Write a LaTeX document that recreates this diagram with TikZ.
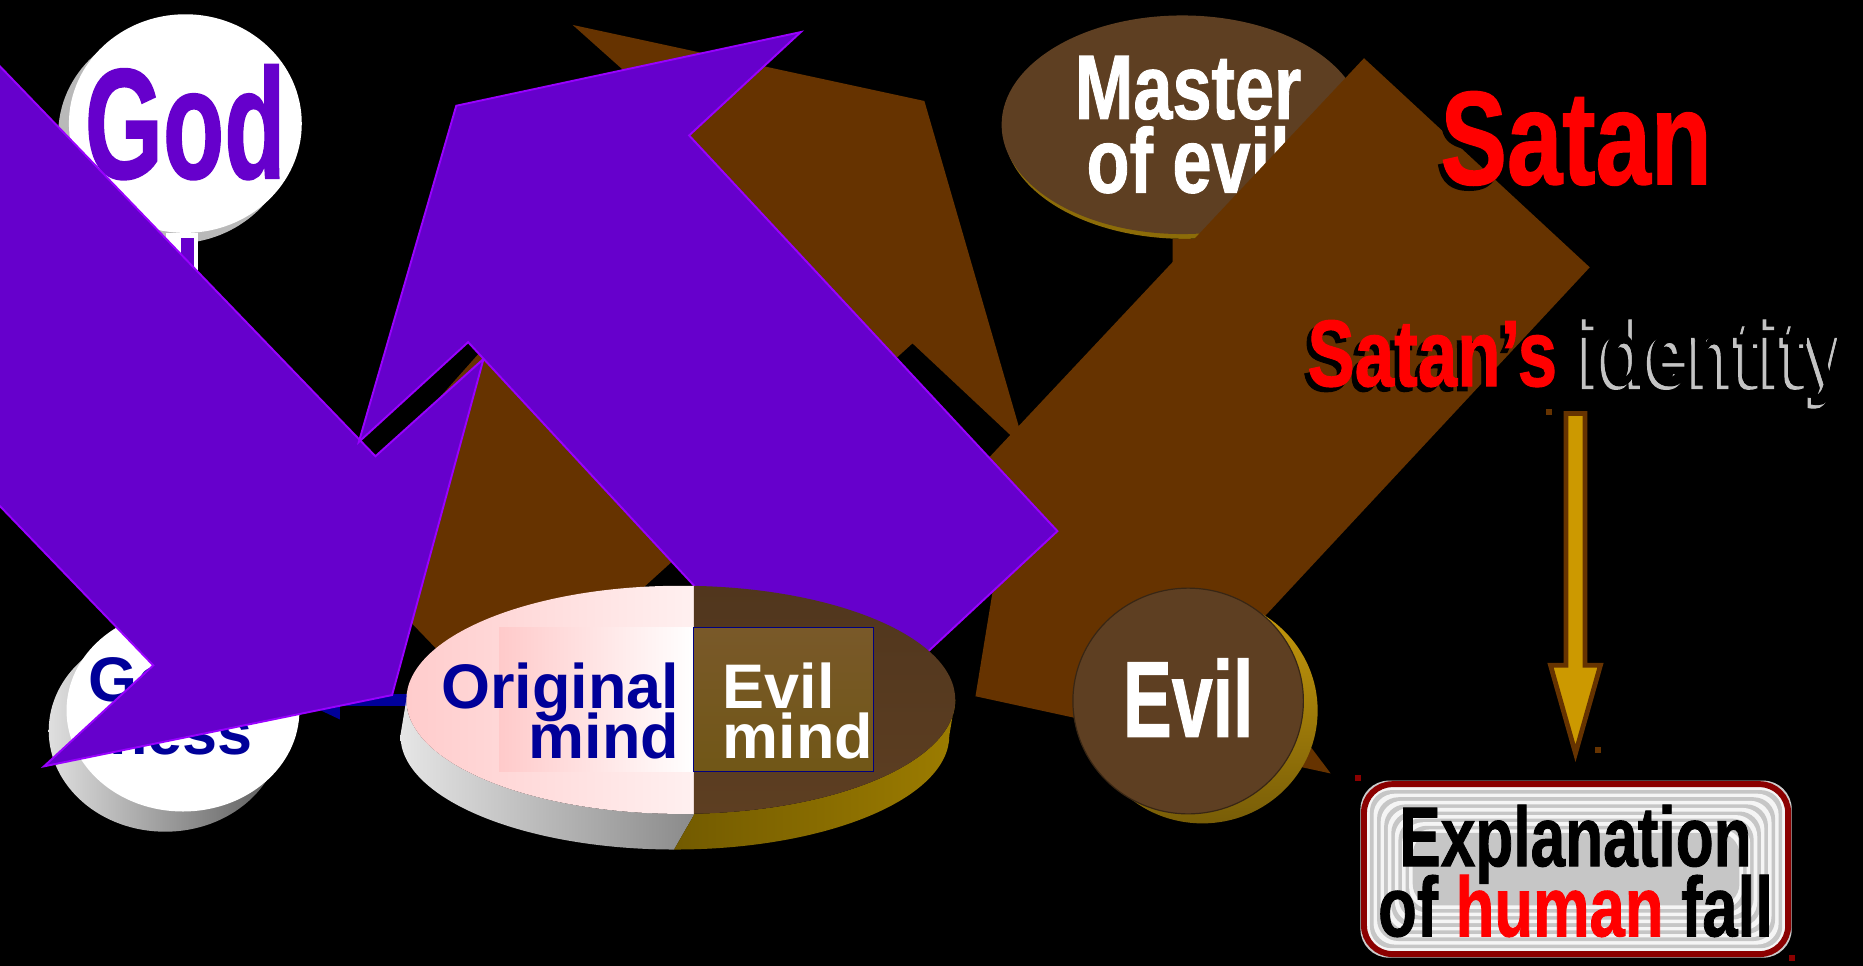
\documentclass[tikz,border=0pt]{standalone}
\usepackage{fontspec}
\usepackage{graphicx}
\setmainfont{Liberation Sans}
\newfontfamily\impfont[FakeBold=1.2]{Liberation Sans}
\usetikzlibrary{arrows.meta}
\definecolor{purp}{HTML}{6600CC}
\definecolor{purpedge}{HTML}{9900FF}
\definecolor{brn}{HTML}{663300}
\definecolor{discbrn}{HTML}{5E3F22}
\definecolor{navy}{HTML}{000099}
\definecolor{goldfill}{HTML}{CC9900}
\definecolor{goldedge}{HTML}{663300}
\definecolor{boxred}{HTML}{8B0000}
\definecolor{pinkL}{HTML}{FFCACA}
\definecolor{pinkR}{HTML}{FFF0F0}
\definecolor{evilrect}{HTML}{72501E}
\definecolor{sidegoldL}{HTML}{4A3A00}
\definecolor{sidegoldR}{HTML}{9C7C00}
\definecolor{evilgold}{HTML}{C89B0C}
\definecolor{rectedge}{HTML}{000080}
\definecolor{idgray}{HTML}{C4C4C4}
\tikzset{
  purparrow/.style={fill=purp, draw=purpedge, line width=0.8pt, line join=miter},
  brownshape/.style={fill=brn},
  imptext/.style={inner sep=0pt, font=\impfont\bfseries},
  aritext/.style={inner sep=0pt, font=\bfseries\fontsize{26.5}{30}\selectfont},
  handle/.style={minimum size=2.5pt, inner sep=0pt},
}
\begin{document}
\begin{tikzpicture}[x=0.5pt,y=-0.5pt]
\useasboundingbox (0,0) rectangle (1568,813);
\fill[black] (0,0) rectangle (1568,813);
\begin{scope}
\clip (0,0) rectangle (1568,813);

% ---- Master of evil disc
\fill[evilgold!70!black] (997,109) ellipse [x radius=152, y radius=92];
\fill[discbrn] (995,105) ellipse [x radius=152, y radius=92];
\node[imptext, font=\impfont\bfseries\fontsize{38.4}{40}\selectfont, text=white, anchor=base] (master1) at (1000,100) {\scalebox{0.77}[1]{Master}};
\node[imptext, font=\impfont\bfseries\fontsize{38.4}{40}\selectfont, text=white, anchor=base] (master2) at (1000,162) {\scalebox{0.77}[1]{of evil}};

% ---- brown block arrows
\fill[brownshape] (778,85) -- (863,378) -- (768,289) -- (422,603) -- (271,446) -- (575,104) -- (482,21) -- cycle;
\fill[brownshape] (1148,49) -- (1338,225) -- (1040,545) -- (1120,651) -- (821,586) -- (840,470) -- (826,392) -- cycle;
\fill[brownshape] (987,201) -- (1007,201) -- (987,221) -- cycle;

% ---- God disc
\fill[gray!55] (147,113) ellipse [x radius=98, y radius=92];
\fill[white] (156,104) ellipse [x radius=98, y radius=92];
\fill[white] (140,196) rectangle (167,240);
\fill[purp] (152,200) rectangle (163,236);
\node[imptext, font=\impfont\bfseries\fontsize{66}{70}\selectfont, text=purp, anchor=base west] (god) at (71,150) {\scalebox{0.64}[1]{God}};

% ---- Goodness disc
\shade[left color=gray!25, right color=gray!70!black] (139,615) ellipse [x radius=98, y radius=85];
\fill[white] (154,598) ellipse [x radius=98, y radius=85];
\node[aritext, text=navy, anchor=base east] (good1) at (213,590) {Good};
\node[aritext, text=navy, anchor=base east] (good2) at (213,635) {ness};

% ---- blue connector (Original mind -> Goodness)
\coordinate (blueS) at (352,589);
\coordinate (blueE) at (250,589);
\draw[navy, line width=5pt, -{Triangle[length=18pt,width=15pt]}] (blueS) -- (blueE);

% ---- purple block arrows
\filldraw[purparrow] (-100,-48) -- (316,384) -- (407,302) -- (330,585) -- (37,645) -- (129,560) -- (-287,128) -- cycle;
\filldraw[purparrow] (384,89) -- (674,27) -- (580,114) -- (890,447) -- (703,621) -- (394,288) -- (302,372) -- cycle;

% ---- mind disc (cylinder)
\coordinate (mindc) at (573,589);
\begin{scope}
  \clip (0,400) -- (584,400) -- (584,686) -- (553,740) -- (0,740) -- cycle;
  \shade[left color=gray!20, right color=gray!45!black]
    (342,589) -- (337,619) arc[start angle=180, end angle=0, x radius=231, y radius=96]
    -- (804,589) arc[start angle=0, end angle=180, x radius=231, y radius=96] -- cycle;
\end{scope}
\begin{scope}
  \clip (584,400) -- (900,400) -- (900,740) -- (553,740) -- (584,686) -- cycle;
  \shade[left color=sidegoldL, right color=sidegoldR]
    (342,589) -- (337,619) arc[start angle=180, end angle=0, x radius=231, y radius=96]
    -- (804,589) arc[start angle=0, end angle=180, x radius=231, y radius=96] -- cycle;
\end{scope}
\begin{scope}
  \clip (573,589) ellipse [x radius=231, y radius=96];
  \shade[left color=pinkL, right color=pinkR] (330,480) rectangle (584,700);
  \shade[left color=pinkL, right color=white] (420,528) rectangle (584,649);
  \shade[top color=discbrn!85!black, bottom color=discbrn] (584,480) rectangle (820,700);
\end{scope}
\shade[top color=evilrect!95!white, bottom color=evilrect!85!black!90!yellow, draw=rectedge, line width=0.5pt] (584,528) rectangle (735,649);
\node[aritext, text=navy, anchor=base east] (orig1) at (572,596) {Original};
\node[aritext, text=navy, anchor=base east] (orig2) at (572,638) {mind};
\node[aritext, text=white, anchor=base west] (evilm1) at (608,596) {Evil};
\node[aritext, text=white, anchor=base west] (evilm2) at (608,638) {mind};

% ---- Evil disc
\shade[top color=evilgold, bottom color=evilgold!60!black] (1012,598) ellipse [x radius=97, y radius=95];
\filldraw[fill=discbrn, draw=discbrn!60!black, line width=0.5pt] (1000,590) ellipse [x radius=97, y radius=95];
\node[imptext, font=\impfont\bfseries\fontsize{45.4}{48}\selectfont, text=white, anchor=base] (evil) at (1000,620) {\scalebox{0.68}[1]{Evil}};

% ---- Satan titles
\node[imptext, font=\impfont\bfseries\fontsize{55.9}{58}\selectfont, text=black, anchor=base west] (satanS) at (1208,159) {\scalebox{0.75}[1]{Satan}};
\node[imptext, font=\impfont\bfseries\fontsize{55.9}{58}\selectfont, text=red, anchor=base west] (satan) at (1212,155) {\scalebox{0.75}[1]{Satan}};
\node[imptext, font=\impfont\bfseries\fontsize{39.8}{42}\selectfont, text=black, anchor=base west] (satanidS) at (1096,329) {\scalebox{0.75}[1]{Satan’s}};
\node[imptext, font=\impfont\bfseries\fontsize{39.8}{42}\selectfont, text=red, anchor=base west] (satanid1) at (1100,325) {\scalebox{0.75}[1]{Satan’s}};
\node[imptext, font=\impfont\bfseries\fontsize{39.8}{42}\selectfont, text=idgray, anchor=base west] (satanid2) at (1327,327) {\scalebox{0.8}[1]{identity}};
\node[imptext, font=\impfont\bfseries\fontsize{39.8}{42}\selectfont, text=black, anchor=base west] (satanid2H) at (1330,324) {\scalebox{0.8}[1]{identity}};

% ---- gold arrow (identity -> explanation)
\coordinate (gtop) at (1326,348);
\coordinate (gtip) at (1326,634);
\filldraw[fill=goldfill, draw=goldedge, line width=2pt, line join=miter]
  (1318,348) -- (1334,348) -- (1334,560) -- (1347,560) -- (gtip) -- (1305,560) -- (1318,560) -- cycle;
\node[handle, fill=goldedge] (h1) at (1304,347) {};
\node[handle, fill=goldedge] (h2) at (1345,631) {};

% ---- explanation box
\fill[gray!40, rounded corners=12pt] (1145,657) rectangle (1508,806);
\foreach \i in {0,...,13}{
  \pgfmathsetmacro\d{5+\i*3}
  \ifodd\i \def\cc{gray!45}\else\def\cc{gray!8}\fi
  \fill[\cc, rounded corners=9pt] (1145+\d,657+\d) rectangle (1508-\d,806-\d);
}
\draw[boxred, line width=2.5pt, rounded corners=12pt] (1148,660) rectangle (1505,803);
\node[handle, fill=boxred] (h3) at (1143,655) {};
\node[handle, fill=boxred] (h4) at (1508,806) {};
\node[imptext, font=\impfont\bfseries\fontsize{35.6}{38}\selectfont, text=black, anchor=base] (expl1) at (1326,729) {\scalebox{0.735}[1]{Explanation}};
\node[imptext, font=\impfont\bfseries\fontsize{35.6}{38}\selectfont, text=black, anchor=base] (expl2) at (1326,788) {\scalebox{0.75}[1]{of \textcolor{red}{human} fall}};
\end{scope}
\end{tikzpicture}
\end{document}
